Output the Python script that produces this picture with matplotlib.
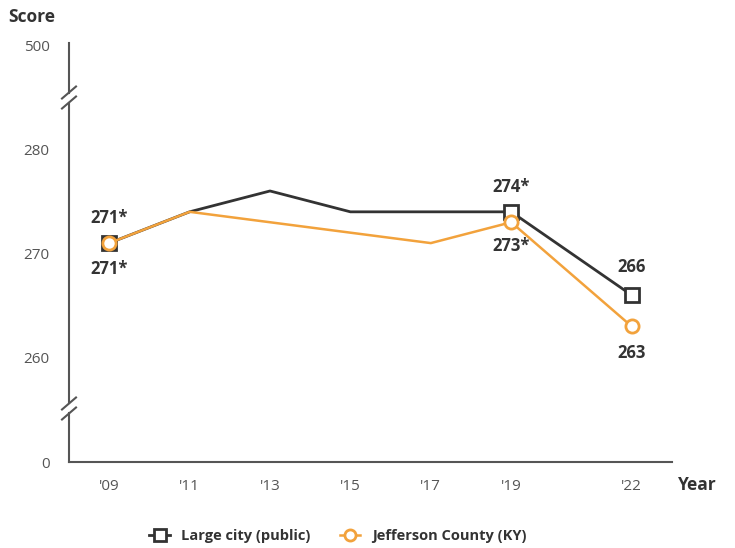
import matplotlib.pyplot as plt
from matplotlib.lines import Line2D

plt.rcParams['font.family'] = ['Open Sans', 'DejaVu Sans']

years = [2009, 2011, 2013, 2015, 2017, 2019, 2022]
year_labels = ["'09", "'11", "'13", "'15", "'17", "'19", "'22"]
large_city = [271, 274, 276, 274, 274, 274, 266]
jefferson = [271, 274, 273, 272, 271, 273, 263]

# broken y axis: 250 stands for 0, 290 stands for 500
ytick_pos = [250, 260, 270, 280, 290]
ytick_labels = ['0', '260', '270', '280', '500']

# labelled points: (series, index, text, offset in points)
labels = [
    (large_city, 0, '271*', 18),
    (jefferson, 0, '271*', -19),
    (large_city, 5, '274*', 18),
    (jefferson, 5, '273*', -17),
    (large_city, 6, '266', 20),
    (jefferson, 6, '263', -19),
]

dark = '#333333'
orange = '#F2A23C'

fig = plt.figure(figsize=(7.35, 5.48), dpi=100)
ax = fig.add_axes([69 / 735, 1 - 462 / 548, 603 / 735, 418 / 548])

ax.plot(years, large_city, color=dark, lw=2, marker='s', markevery=[0, 5, 6],
        ms=9.5, mfc='white', mec=dark, mew=2, zorder=3)
ax.plot(years, jefferson, color=orange, lw=1.8, marker='o', markevery=[0, 5, 6],
        ms=9.5, mfc='white', mec=orange, mew=2, zorder=4)

for series, i, txt, off in labels:
    ax.annotate(txt, (years[i], series[i]), xytext=(0, off), textcoords='offset points',
                ha='center', va='center', fontsize=12, fontweight='bold', color=dark)

ax.set_xlim(2008, 2023)
ax.set_ylim(250, 290.1)
ax.set_xticks(years)
ax.set_xticklabels(year_labels)
ax.set_yticks(ytick_pos)
ax.set_yticklabels(ytick_labels)
ax.tick_params(axis='both', length=0, labelsize=11, labelcolor='#555555')
ax.tick_params(axis='y', pad=14)
ax.tick_params(axis='x', pad=12)

for s in ['top', 'right', 'left']:
    ax.spines[s].set_visible(False)
ax.spines['bottom'].set_color('#555555')
ax.spines['bottom'].set_linewidth(1.5)

# y axis line with two breaks
px = 1 / 603
py = 1 / 418
axis_kw = dict(transform=ax.transAxes, color='#555555', lw=1.5, clip_on=False)
segments = [(0, 0.128 - 5 * py), (0.128 + 5 * py, 0.872 - 5 * py), (0.872 + 5 * py, 1.003)]
for y0, y1 in segments:
    ax.add_line(Line2D([0, 0], [y0, y1], **axis_kw))
for yb in [0.872, 0.128]:
    for d in [-5, 5]:
        yc = yb + d * py
        ax.add_line(Line2D([-7 * px, 7 * px], [yc - 6 * py, yc + 6 * py], **axis_kw))

fig.text(8 / 735, 1 - 17 / 548, 'Score', fontsize=12.5, fontweight='bold', color=dark, va='center')
fig.text(678 / 735, 1 - 485 / 548, 'Year', fontsize=12.5, fontweight='bold', color=dark, va='center')

handles = [
    Line2D([], [], color=dark, lw=2, marker='s', ms=8, mfc='white', mec=dark, mew=2),
    Line2D([], [], color=orange, lw=1.8, marker='o', ms=8, mfc='white', mec=orange, mew=2),
]
fig.legend(handles, ['Large city (public)', 'Jefferson County (KY)'], loc='center',
           bbox_to_anchor=(338 / 735, 1 - 536 / 548), ncol=2, frameon=False,
           handlelength=1.4, columnspacing=2.0, handletextpad=0.8,
           prop={'size': 10.5, 'weight': 'bold'}, labelcolor=dark)

fig.savefig('out.png', dpi=100)
